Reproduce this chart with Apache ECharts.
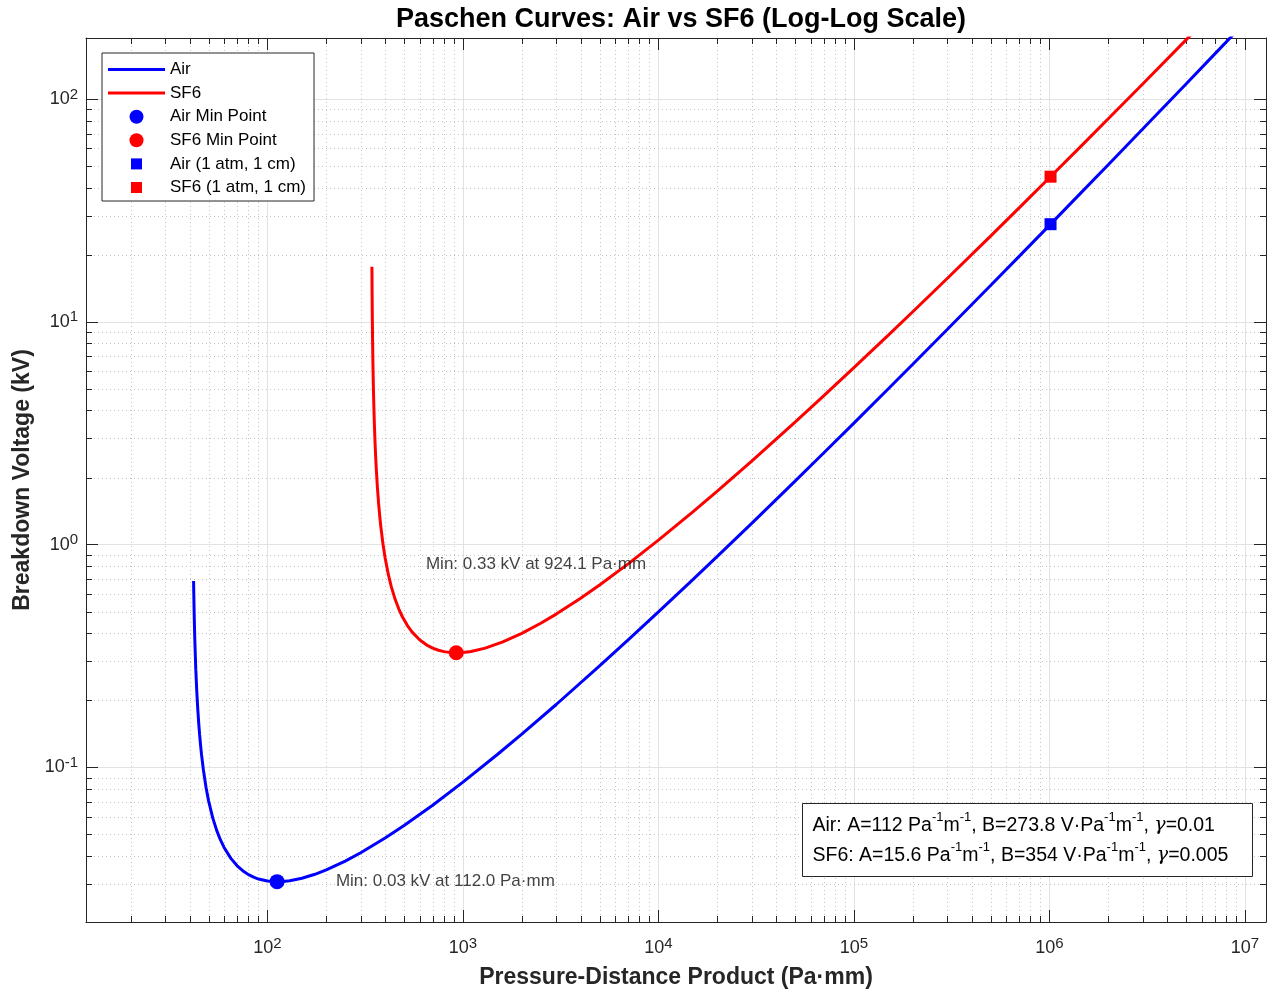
<!DOCTYPE html>
<html><head><meta charset="utf-8">
<script src="https://cdn.jsdelivr.net/npm/echarts@6/dist/echarts.min.js"></script>
<style>html,body{margin:0;padding:0;background:#fff}#c{width:1272px;height:992px}</style>
</head><body><div id="c"></div>
<script>
// ---- data (x: Pa·mm, y: kV) ----
const airPd = [41.9, 42, 42.25, 42.5, 43, 43.5, 44, 44.5, 45, 45.5, 46, 47, 48.5, 50, 52.5, 55, 57.5, 60, 65, 70, 75, 80, 85, 90, 100, 112, 120, 130, 150, 175, 200, 250, 300, 400, 500, 700, 1000, 1500, 2000, 3000, 5000, 7000, 1e4, 1.5e4, 2e4, 3e4, 5e4, 7e4, 1e5, 1.5e5, 2e5, 3e5, 5e5, 7e5, 1e6, 1.5e6, 2e6, 3e6, 5e6, 7e6, 1e7];
const airKV = [0.6859, 0.6017, 0.4619, 0.3761, 0.2761, 0.21975, 0.1836, 0.15838, 0.1399, 0.12565, 0.1144, 0.0978, 0.08147, 0.07076, 0.05934, 0.05215, 0.04725, 0.04372, 0.03904, 0.03617, 0.03429, 0.03301, 0.03214, 0.03154, 0.03088, 0.03067, 0.03074, 0.03098, 0.03179, 0.03313, 0.03466, 0.03797, 0.04138, 0.04819, 0.05485, 0.06766, 0.08585, 0.11425, 0.14105, 0.19157, 0.2853, 0.37324, 0.4986, 0.69643, 0.88537, 1.2464, 1.92784, 2.5769, 3.5128, 5.00864, 6.45183, 9.2365, 14.558, 19.677, 27.117, 39.105, 50.75, 73.37, 116.945, 159.15, 220.8];
const sf6Pd = [342.3, 343, 344, 345, 346, 347, 348.5, 350, 352.5, 355, 357.5, 360, 365, 370, 375, 380, 390, 400, 415, 430, 450, 470, 490, 520, 550, 600, 650, 700, 750, 800, 850, 924.1, 1000, 1100, 1300, 1600, 2000, 2500, 3000, 4000, 5000, 7000, 1e4, 1.5e4, 2e4, 3e4, 5e4, 7e4, 1e5, 1.5e5, 2e5, 3e5, 5e5, 7e5, 1e6, 1.5e6, 2e6, 3e6, 5e6, 7e6, 1e7];
const sf6KV = [17.66, 13.64, 10.31, 8.299, 6.955, 5.993, 4.9723, 4.257, 3.445, 2.903, 2.5157, 2.225, 1.8181, 1.5469, 1.3533, 1.2081, 1.0053, 0.8706, 0.73657, 0.6479, 0.5681, 0.5137, 0.47448, 0.4331, 0.40471, 0.3739, 0.35501, 0.3431, 0.33555, 0.3309, 0.32835, 0.3271, 0.3281, 0.3316, 0.3431, 0.3657, 0.3995, 0.44356, 0.4877, 0.57439, 0.6584, 0.81921, 1.0469, 1.40217, 1.7376, 2.37047, 3.5464, 4.6514, 6.2279, 8.71983, 11.102, 15.657, 24.268, 32.477, 44.324, 63.2734, 81.5684, 116.89, 184.449, 249.48, 344.05];
const airMin = [112.0, 0.0307];
const sf6Min = [924.1, 0.3271];
const airAtm = [1.01325e6, 27.44];
const sf6Atm = [1.01325e6, 44.84];
const airMinLabelAt = [224, 0.0307];
const sf6MinLabelAt = [646.9, 0.818];
const xMinorTicks = [20,30,40,50,60,70,80,90, 200,300,400,500,600,700,800,900, 2000,3000,4000,5000,6000,7000,8000,9000, 2e4,3e4,4e4,5e4,6e4,7e4,8e4,9e4, 2e5,3e5,4e5,5e5,6e5,7e5,8e5,9e5, 2e6,3e6,4e6,5e6,6e6,7e6,8e6,9e6];
const yMinorTicks = [0.03,0.04,0.05,0.06,0.07,0.08,0.09, 0.2,0.3,0.4,0.5,0.6,0.7,0.8,0.9, 2,3,4,5,6,7,8,9, 20,30,40,50,60,70,80,90];
const xRange = [11.8, 1.282e7];
const yRange = [0.02023, 188];
const paramLines = [
  ['Air: A=112 Pa', '-1', 'm', '-1', ', B=273.8 V·Pa', '-1', 'm', '-1', ', ', 'γ', '=0.01'],
  ['SF6: A=15.6 Pa', '-1', 'm', '-1', ', B=354 V·Pa', '-1', 'm', '-1', ', ', 'γ', '=0.005']
];

const FONT = "'Liberation Sans', Arial, Helvetica, sans-serif";
const AX = '#262626';

function powLabel(v) {
  const e = Math.log10(v);
  if (Math.abs(e - Math.round(e)) > 1e-6) return '';
  return '{b|10}{s|' + Math.round(e) + '}';
}
const tickRich = {
  b: {fontSize: 18, lineHeight: 24, color: AX, fontFamily: FONT},
  s: {fontSize: 15, lineHeight: 9, verticalAlign: 'top', color: AX, fontFamily: FONT}
};

function crisp(v) { return Math.round(v) + 0.5; }

function minorX(params, api) {
  const x = crisp(api.coord([api.value(0), 1])[0]);
  const cs = params.coordSys;
  const b = cs.y + cs.height;
  return {type: 'group', children: [
    {type: 'line', shape: {x1: x, y1: cs.y, x2: x, y2: b}, style: {stroke: '#c4c4c4', lineWidth: 1, lineDash: [1, 3]}},
    {type: 'line', shape: {x1: x, y1: b, x2: x, y2: b - 6}, style: {stroke: AX, lineWidth: 1}},
    {type: 'line', shape: {x1: x, y1: cs.y, x2: x, y2: cs.y + 6}, style: {stroke: AX, lineWidth: 1}}
  ]};
}
function minorY(params, api) {
  const y = crisp(api.coord([100, api.value(1)])[1]);
  const cs = params.coordSys;
  const r = cs.x + cs.width;
  return {type: 'group', children: [
    {type: 'line', shape: {x1: cs.x, y1: y, x2: r, y2: y}, style: {stroke: '#c4c4c4', lineWidth: 1, lineDash: [1, 3]}},
    {type: 'line', shape: {x1: cs.x, y1: y, x2: cs.x + 6, y2: y}, style: {stroke: AX, lineWidth: 1}},
    {type: 'line', shape: {x1: r, y1: y, x2: r - 6, y2: y}, style: {stroke: AX, lineWidth: 1}}
  ]};
}

function zip(a, b) { return a.map((v, i) => [v, b[i]]); }

const baseAxis = {
  type: 'log', logBase: 10,
  axisLine: {show: true, lineStyle: {color: AX, width: 1}},
  axisTick: {show: true, inside: true, length: 12, lineStyle: {color: AX}},
  minorTick: {show: false},
  splitLine: {show: false}
};

const lineIcon = 'path://M0,0h57v3h-57z';
const squareIcon = 'path://M0,0M14,14M1.5,1.5h11v11h-11z';

const chart = echarts.init(document.getElementById('c'), null, {renderer: 'canvas'});
chart.setOption({
  backgroundColor: '#fff',
  animation: false,
  title: {
    text: 'Paschen Curves: Air vs SF6 (Log-Log Scale)',
    left: 676, top: 1, textAlign: 'center',
    textStyle: {fontSize: 27, fontWeight: 'bold', color: '#000', fontFamily: FONT}
  },
  grid: {left: 86, top: 38, width: 1180, height: 884, containLabel: false, outerBoundsMode: 'none'},
  xAxis: [
    Object.assign({}, baseAxis, {
      min: xRange[0], max: xRange[1], position: 'bottom',
      splitLine: {show: true, lineStyle: {color: '#e2e2e2', width: 1}},
      axisLabel: {formatter: powLabel, rich: tickRich, margin: 14, showMinLabel: false, showMaxLabel: false},
      name: 'Pressure-Distance Product (Pa·mm)', nameLocation: 'middle', nameGap: 44,
      nameTextStyle: {fontSize: 23, fontWeight: 'bold', color: AX, fontFamily: FONT}
    }),
    Object.assign({}, baseAxis, {
      min: xRange[0], max: xRange[1], position: 'top',
      axisLabel: {show: false}
    })
  ],
  yAxis: [
    Object.assign({}, baseAxis, {
      min: yRange[0], max: yRange[1], position: 'left',
      splitLine: {show: true, lineStyle: {color: '#e2e2e2', width: 1}},
      axisLabel: {formatter: powLabel, rich: tickRich, margin: 8, showMinLabel: false, showMaxLabel: false},
      name: 'Breakdown Voltage (kV)', nameLocation: 'middle', nameGap: 48,
      nameTextStyle: {fontSize: 23, fontWeight: 'bold', color: AX, fontFamily: FONT}
    }),
    Object.assign({}, baseAxis, {
      min: yRange[0], max: yRange[1], position: 'right',
      axisLabel: {show: false}
    })
  ],
  legend: {
    orient: 'vertical', left: 102, top: 53,
    padding: [8, 8, 5, 6], itemGap: 6.6, itemWidth: 57, itemHeight: 14,
    backgroundColor: '#fff', borderColor: AX, borderWidth: 1, borderRadius: 0,
    textStyle: {fontSize: 17, color: '#000', fontFamily: FONT},
    selectedMode: false,
    data: [
      {name: 'Air', icon: lineIcon}, {name: 'SF6', icon: lineIcon},
      {name: 'Air Min Point', icon: 'circle'},
      {name: 'SF6 Min Point', icon: 'circle'},
      {name: 'Air (1 atm, 1 cm)', icon: squareIcon},
      {name: 'SF6 (1 atm, 1 cm)', icon: squareIcon}
    ]
  },
  series: [
    {type: 'custom', name: 'xminor', data: xMinorTicks.map(v => [v, 1]), renderItem: minorX, silent: true, z: 1, clip: false},
    {type: 'custom', name: 'yminor', data: yMinorTicks.map(v => [100, v]), renderItem: minorY, silent: true, z: 1, clip: false},
    {type: 'line', name: 'Air', data: zip(airPd, airKV), symbol: 'none', showSymbol: false, smooth: false,
      lineStyle: {color: '#0000ff', width: 3}, itemStyle: {color: '#0000ff'}, z: 3, clip: true},
    {type: 'line', name: 'SF6', data: zip(sf6Pd, sf6KV), symbol: 'none', showSymbol: false, smooth: false,
      lineStyle: {color: '#ff0000', width: 3}, itemStyle: {color: '#ff0000'}, z: 3, clip: true},
    {type: 'scatter', name: 'Air Min Point', data: [airMin], symbol: 'circle', symbolSize: 15, itemStyle: {color: '#0000ff', opacity: 1}, z: 4},
    {type: 'scatter', name: 'SF6 Min Point', data: [sf6Min], symbol: 'circle', symbolSize: 15, itemStyle: {color: '#ff0000', opacity: 1}, z: 4},
    {type: 'scatter', name: 'Air (1 atm, 1 cm)', data: [airAtm], symbol: 'rect', symbolSize: 12, itemStyle: {color: '#0000ff', opacity: 1}, z: 4},
    {type: 'scatter', name: 'SF6 (1 atm, 1 cm)', data: [sf6Atm], symbol: 'rect', symbolSize: 12, itemStyle: {color: '#ff0000', opacity: 1}, z: 4},
    {type: 'scatter', name: 'minLabels', symbolSize: 0, silent: true, z: 5,
      data: [
        {value: airMinLabelAt, label: {formatter: 'Min: ' + airMin[1].toFixed(2) + ' kV at ' + airMin[0].toFixed(1) + ' Pa·mm'}},
        {value: sf6MinLabelAt, label: {formatter: 'Min: ' + sf6Min[1].toFixed(2) + ' kV at ' + sf6Min[0].toFixed(1) + ' Pa·mm'}}
      ],
      label: {show: true, position: 'right', distance: 0, fontSize: 17, color: '#111', fontFamily: FONT}
    }
  ],
  graphic: [{
    type: 'group', left: 802, top: 803,
    children: [
      {type: 'rect', shape: {x: 0, y: 0, width: 450, height: 73}, style: {fill: '#fff', stroke: AX, lineWidth: 1}, z: 100},
      {type: 'text', x: 10, y: 7, z: 101, style: {
        text: paramLines.map(parts => parts.map(p => {
          if (p === 'γ') return '{g|' + p + '}';
          if (p === '-1') return '{s|' + p + '}';
          return '{t|' + p + '}';
        }).join('')).join('\n'),
        rich: {
          t: {fontSize: 19.5, lineHeight: 30, color: '#111', fontFamily: FONT},
          s: {fontSize: 13, lineHeight: 11, verticalAlign: 'top', color: '#111', fontFamily: FONT},
          g: {fontSize: 19, lineHeight: 30, fontStyle: 'italic', color: '#555', fontFamily: "'DejaVu Serif', serif"}
        }
      }}
    ]
  }]
});
</script>
</body></html>
